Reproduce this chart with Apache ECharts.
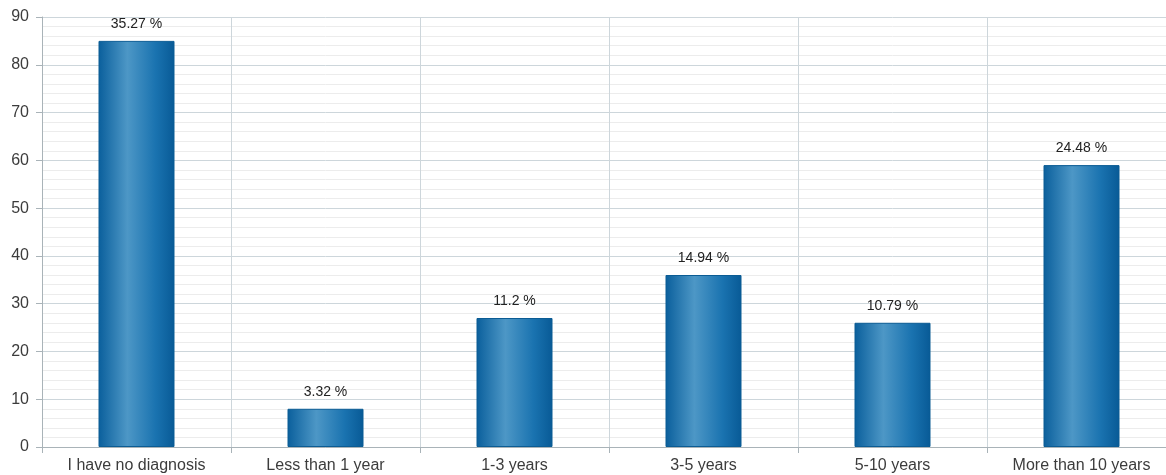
<!DOCTYPE html>
<html>
<head>
<meta charset="utf-8">
<script src="https://cdn.jsdelivr.net/npm/echarts@6/dist/echarts.min.js"></script>
<style>
  html, body { margin: 0; padding: 0; background: #fff; overflow: hidden; width: 1166px; height: 475px; }
  /* canvas is wider than the page so the last category is cut at the right edge */
  #chart { width: 1180px; height: 475px; }
</style>
</head>
<body>
<div id="chart"></div>
<script>
// Responses per time since diagnosis
const categories = ['I have no diagnosis', 'Less than 1 year', '1-3 years', '3-5 years', '5-10 years', 'More than 10 years'];
const counts = [85, 8, 27, 36, 26, 59];
const yTicks = { min: 0, max: 90, interval: 10 };

const total = counts.reduce((a, b) => a + b, 0);
const pctLabel = v => parseFloat((v / total * 100).toFixed(2)) + ' %';

const barFill = new echarts.graphic.LinearGradient(0, 0, 1, 0, [
  { offset: 0, color: '#0a5f9c' },
  { offset: 0.38, color: '#4d97c6' },
  { offset: 0.75, color: '#1a73b0' },
  { offset: 1, color: '#085a96' }
]);

const font = 'Liberation Sans, Arial, sans-serif';

const chart = echarts.init(document.getElementById('chart'), null, { renderer: 'canvas' });
chart.setOption({
  animation: false,
  backgroundColor: '#fff',
  grid: { left: 42, right: 4, top: 17, bottom: 28, containLabel: false },
  xAxis: {
    type: 'category',
    data: categories,
    boundaryGap: true,
    axisLine: { lineStyle: { color: '#a9b3b8', width: 1 } },
    axisTick: { show: true, length: 6, alignWithLabel: false, lineStyle: { color: '#a9b3b8' } },
    axisLabel: { color: '#3c3c3c', fontSize: 16, fontFamily: font, margin: 11, interval: 0 },
    splitLine: { show: true, interval: 0, lineStyle: { color: '#cdd6db', width: 1 } }
  },
  yAxis: {
    type: 'value',
    min: yTicks.min,
    max: yTicks.max,
    interval: yTicks.interval,
    axisLine: { show: true, lineStyle: { color: '#a9b3b8' } },
    axisTick: { show: true, length: 6, lineStyle: { color: '#a9b3b8' } },
    axisLabel: { color: '#3c3c3c', fontSize: 16, fontFamily: font, margin: 13 },
    splitLine: { show: true, lineStyle: { color: '#cdd6db', width: 1 } },
    minorTick: { show: false, splitNumber: 5 },
    minorSplitLine: { show: true, lineStyle: { color: '#ececec', width: 1 } }
  },
  series: [{
    type: 'bar',
    data: counts,
    barWidth: 76,
    itemStyle: { color: barFill, borderColor: '#0b5c94', borderWidth: 1 },
    label: {
      show: true,
      position: 'top',
      distance: 10,
      color: '#222',
      fontSize: 14,
      fontFamily: font,
      formatter: p => pctLabel(p.value)
    }
  }]
});
</script>
</body>
</html>
